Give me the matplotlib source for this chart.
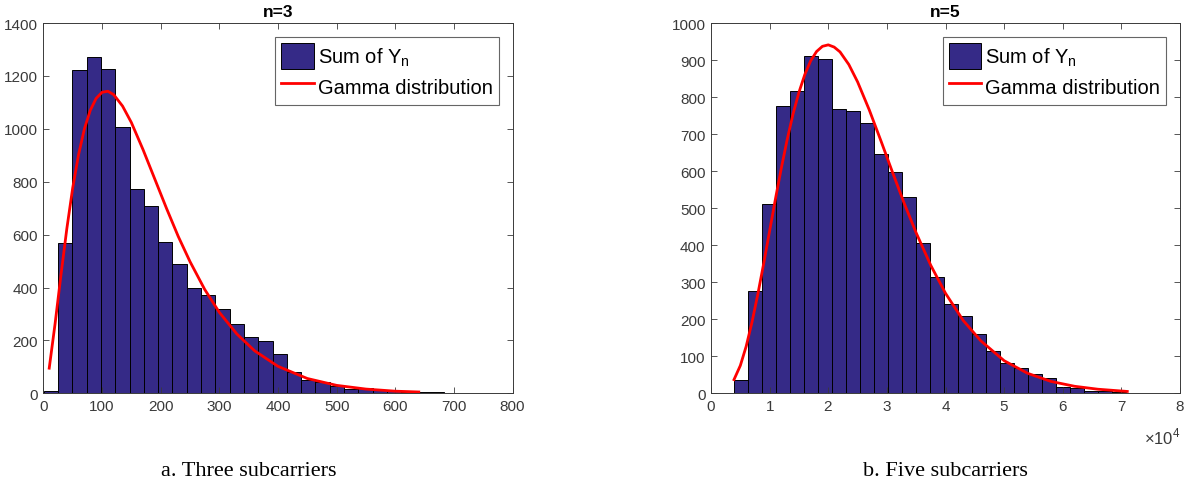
"""
Histogram of summed subcarrier powers with fitted gamma curve, n=3 and n=5
"""
import matplotlib
matplotlib.use('Agg')
import matplotlib.pyplot as plt
import numpy as np

# n=3 histogram (30 bins)
left_lo, left_hi = 0.8, 731.9
left_counts = [8, 567, 1221, 1270, 1225, 1006, 774, 707, 571, 488,
               400, 372, 319, 262, 212, 198, 147, 79, 52, 42,
               29, 16, 20, 12, 9, 6, 5, 4, 3, 2]
left_curve_x = [10, 20, 30, 40, 50, 60, 70, 80, 90, 100, 110, 120, 135, 150,
                170, 190, 210, 230, 250, 275, 300, 330, 360, 400, 450, 500,
                550, 600, 640]
left_curve_y = [95, 263, 447, 622, 776, 902, 1000, 1070, 1115, 1138, 1142,
                1129, 1086, 1024, 921, 810, 699, 593, 498, 393, 306, 224,
                161, 102, 56, 30, 16, 8, 5]

# n=5 histogram (30 bins)
right_lo, right_hi = 3920, 75470
right_counts = [36, 276, 511, 775, 816, 912, 903, 769, 763, 729,
                646, 598, 531, 406, 313, 242, 208, 161, 115, 81,
                68, 51, 40, 16, 14, 7, 5, 4, 2, 2]
right_curve_x = [3920, 5000, 6000, 7000, 8000, 9000, 10000, 11000, 12000,
                 13000, 14000, 15000, 16000, 17000, 18000, 19000, 20000,
                 21000, 22000, 23500, 25000, 27000, 29000, 31000, 33000,
                 35000, 37500, 40000, 43000, 46000, 50000, 54000, 58000,
                 62000, 66000, 71000]
right_curve_y = [37, 75, 127, 193, 269, 352, 439, 526, 609, 686, 755, 813,
                 861, 898, 923, 937, 941, 935, 922, 888, 841, 765, 681, 595,
                 511, 433, 345, 270, 197, 142, 88, 54, 32, 19, 11, 5]

BAR_COLOR = '#352A87'
AX_COLOR = '#3a3a3a'

plt.rcParams['font.family'] = ['Liberation Sans', 'DejaVu Sans']
plt.rcParams['mathtext.fontset'] = 'custom'
plt.rcParams['mathtext.rm'] = 'Liberation Sans'


def draw_panel(ax, lo, hi, counts, cx, cy, title, xmax, ymax, xstep, ystep):
    edges = np.linspace(lo, hi, len(counts) + 1)
    bars = ax.bar(edges[:-1], counts, width=np.diff(edges), align='edge',
                  color=BAR_COLOR, edgecolor='black', linewidth=0.7)
    line, = ax.plot(cx, cy, color='red', linewidth=2.0)
    ax.set_xlim(0, xmax)
    ax.set_ylim(0, ymax)
    ax.set_xticks(np.arange(0, xmax + 1, xstep))
    ax.set_yticks(np.arange(0, ymax + 1, ystep))
    ax.tick_params(direction='in', top=True, right=True, length=4,
                   width=0.6, color=AX_COLOR, labelcolor=AX_COLOR,
                   labelsize=11, pad=4)
    for sp in ax.spines.values():
        sp.set_color(AX_COLOR)
        sp.set_linewidth(0.7)
    ax.set_title(title, fontsize=12.5, fontweight='bold', pad=5)
    leg = ax.legend([bars, line],
                    ['Sum of Y$_{\\mathregular{n}}$', 'Gamma distribution'],
                    loc='upper right', fontsize=14.5, fancybox=False,
                    edgecolor='#666666', framealpha=1, borderaxespad=0.7,
                    handlelength=1.6, handletextpad=0.2, handleheight=1.6,
                    labelspacing=0.2, borderpad=0.3)
    leg.get_frame().set_linewidth(0.8)
    return ax


fig = plt.figure(figsize=(11.91, 4.85), dpi=100)
ax1 = fig.add_axes([0.0364, 0.187, 0.394, 0.7635])
ax2 = fig.add_axes([0.597, 0.187, 0.3938, 0.7635])

draw_panel(ax1, left_lo, left_hi, left_counts, left_curve_x, left_curve_y,
           'n=3', 800, 1400, 100, 200)
draw_panel(ax2, right_lo, right_hi, right_counts, right_curve_x, right_curve_y,
           'n=5', 80000, 1000, 10000, 100)
ax2.ticklabel_format(axis='x', style='sci', scilimits=(4, 4), useMathText=True)
ax2.xaxis.get_offset_text().set_visible(False)
ax2.text(1.0, -0.115, '$\\times\\mathregular{10}^{\\mathregular{4}}$',
         transform=ax2.transAxes, ha='right', va='center', fontsize=12,
         color=AX_COLOR)

fig.text(249 / 1191, 0.028, 'a. Three subcarriers', ha='center', va='center',
         fontsize=16, family='Liberation Serif')
fig.text(945 / 1191, 0.028, 'b. Five subcarriers', ha='center', va='center',
         fontsize=16, family='Liberation Serif')

fig.savefig('out.png', dpi=100)
